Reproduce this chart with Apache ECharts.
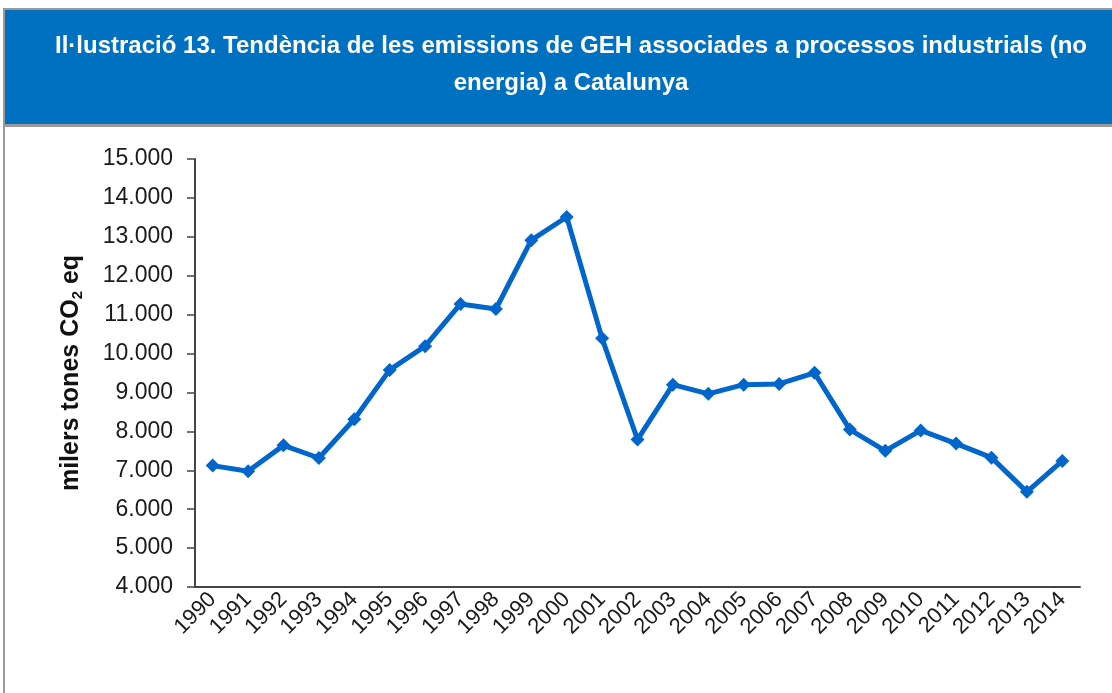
<!DOCTYPE html>
<html>
<head>
<meta charset="utf-8">
<script src="https://cdn.jsdelivr.net/npm/echarts@6/dist/echarts.min.js"></script>
<style>
  html, body { margin: 0; padding: 0; background: #fff; }
  #chart { width: 1112px; height: 693px; }
</style>
</head>
<body>
<div id="chart"></div>
<script>
// dades
const years = ['1990', '1991', '1992', '1993', '1994', '1995', '1996', '1997', '1998', '1999',
  '2000', '2001', '2002', '2003', '2004', '2005', '2006', '2007', '2008', '2009',
  '2010', '2011', '2012', '2013', '2014']
const emissions = [7120, 6975, 7640, 7315, 8310, 9580, 10190, 11275, 11145, 12915,
  13510, 10390, 7790, 9200, 8965, 9200, 9220, 9505, 8045, 7500,
  8025, 7685, 7325, 6445, 7240]
const titleLines = [
  'Il·lustració 13. Tendència de les emissions de GEH associades a processos industrials (no',
  'energia) a Catalunya'
]

const fmt = v => String(v).replace(/\B(?=(\d{3})+(?!\d))/g, '.')

const myChart = echarts.init(document.getElementById('chart'), null, { renderer: 'canvas' })
myChart.setOption({
  animation: false,
  graphic: [
    {
      type: 'rect',
      shape: { x: 4, y: 9, width: 1120, height: 700 },
      style: { fill: '#fff', stroke: '#9a9a9a', lineWidth: 2 },
      z: -10
    },
    {
      type: 'rect',
      shape: { x: 5, y: 10, width: 1120, height: 114 },
      style: { fill: '#0070c0', lineWidth: 0 },
      z: -9
    },
    {
      type: 'rect',
      shape: { x: 4, y: 124, width: 1120, height: 3 },
      style: { fill: '#9a9a9a' },
      z: -9
    }
  ],
  title: {
    text: titleLines.join('\n'),
    left: 566,
    textAlign: 'center',
    top: 23,
    textStyle: {
      color: '#fff',
      fontFamily: 'Arial, Liberation Sans, sans-serif',
      fontWeight: 'bold',
      fontSize: 24,
      lineHeight: 37
    }
  },
  grid: {
    left: 195,
    right: 32,
    top: 159,
    bottom: 106
  },
  xAxis: {
    type: 'category',
    data: years,
    boundaryGap: true,
    axisLine: { lineStyle: { color: '#444', width: 2 } },
    axisTick: { length: 8, inside: true, interval: 0, lineStyle: { color: '#444', width: 1.5 } },
    axisLabel: {
      interval: 0,
      rotate: 45,
      margin: 9,
      color: '#1a1a1a',
      fontFamily: 'Arial, Liberation Sans, sans-serif',
      fontSize: 22
    }
  },
  yAxis: {
    type: 'value',
    min: 4000,
    max: 15000,
    interval: 1000,
    name: '{b|milers tones CO}{s|2}{b| eq}',
    nameLocation: 'middle',
    nameGap: 110,
    nameRotate: 90,
    nameTextStyle: {
      rich: {
        b: { fontFamily: 'Arial, Liberation Sans, sans-serif', fontWeight: 'bold', fontSize: 25, color: '#111' },
        s: { fontFamily: 'Arial, Liberation Sans, sans-serif', fontWeight: 'bold', fontSize: 15, color: '#111', verticalAlign: 'bottom', padding: [12, 0, 0, 0] }
      }
    },
    splitLine: { show: false },
    axisLine: { show: true, lineStyle: { color: '#444', width: 2 } },
    axisTick: { show: true, length: 8, lineStyle: { color: '#444', width: 1.5 } },
    axisLabel: {
      margin: 22,
      color: '#1a1a1a',
      fontFamily: 'Arial, Liberation Sans, sans-serif',
      fontSize: 23,
      formatter: fmt
    }
  },
  series: [
    {
      name: 'emissions',
      type: 'line',
      data: emissions,
      symbol: 'diamond',
      symbolSize: 14,
      lineStyle: { color: '#0066cc', width: 5 },
      itemStyle: { color: '#0066cc' }
    }
  ]
})
</script>
</body>
</html>
